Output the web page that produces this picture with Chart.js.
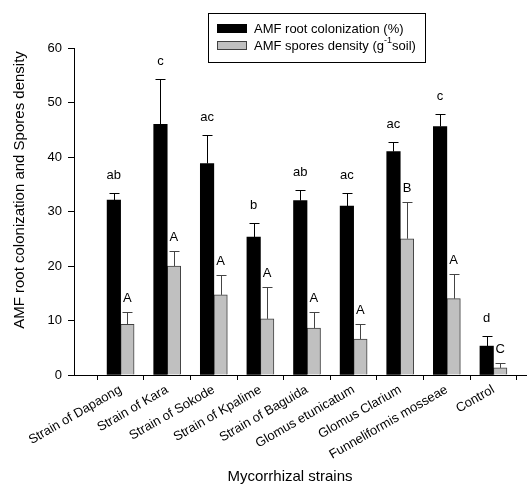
<!DOCTYPE html>
<html><head><meta charset="utf-8">
<script src="https://cdn.jsdelivr.net/npm/chart.js@4"></script>
<style>html,body{margin:0;padding:0;background:#fff}</style>
</head><body>
<canvas id="c" width="527" height="484"></canvas>
<script>
const categories = ['Strain of Dapaong','Strain of Kara','Strain of Sokode','Strain of Kpalime','Strain of Baguida','Glomus etunicatum','Glomus Clarium','Funneliformis mosseae','Control'];
const colonization = [32.1, 46.0, 38.8, 25.3, 32.0, 31.0, 41.0, 45.6, 5.3];
const colonizationErr = [1.3, 8.3, 5.3, 2.6, 2.0, 2.4, 1.8, 2.3, 1.9];
const colonizationLetters = ['ab','c','ac','b','ab','ac','ac','c','d'];
const spores = [9.3, 20.0, 14.7, 10.3, 8.6, 6.6, 25.0, 14.0, 1.3];
const sporesErr = [2.2, 2.7, 3.7, 5.9, 3.0, 2.8, 6.7, 4.5, 0.9];
const sporesLetters = ['A','A','A','A','A','A','B','A','C'];
const yTicks = [0, 10, 20, 30, 40, 50, 60];

const FONT = "'Liberation Sans', Arial, sans-serif";
Chart.defaults.font.family = FONT;

const extras = {
  id: 'extras',
  afterDatasetsDraw(chart) {
    const ctx = chart.ctx, ys = chart.scales.y;
    const errs = [colonizationErr, sporesErr];
    const letters = [colonizationLetters, sporesLetters];
    const errColors = ['#000', '#444'];
    const offsets = [18, 14];
    chart.data.datasets.forEach((ds, di) => {
      const meta = chart.getDatasetMeta(di);
      meta.data.forEach((bar, i) => {
        const top = Math.round(ys.getPixelForValue(ds.data[i].y + errs[di][i])) + 0.5;
        const x = Math.round(bar.x) + 0.5;
        ctx.save();
        ctx.strokeStyle = errColors[di];
        ctx.lineWidth = 1;
        ctx.beginPath();
        ctx.moveTo(x, bar.y); ctx.lineTo(x, top);
        ctx.moveTo(x - 5, top); ctx.lineTo(x + 5, top);
        ctx.stroke();
        ctx.fillStyle = '#000';
        ctx.font = '13px ' + FONT;
        ctx.textAlign = 'center';
        ctx.textBaseline = 'middle';
        ctx.fillText(letters[di][i], bar.x, top - offsets[di]);
        ctx.restore();
      });
    });
  },
  afterDraw(chart) {
    const ctx = chart.ctx;
    ctx.save();
    // axis titles
    ctx.fillStyle = '#000';
    ctx.font = '15px ' + FONT;
    ctx.textAlign = 'center';
    ctx.textBaseline = 'middle';
    ctx.fillText('Mycorrhizal strains', 290, 477);
    ctx.save();
    ctx.translate(20, 190);
    ctx.rotate(-Math.PI / 2);
    ctx.fillText('AMF root colonization and Spores density', 0, 0);
    ctx.restore();
    // legend
    ctx.strokeStyle = '#000';
    ctx.lineWidth = 1;
    ctx.fillStyle = '#fff';
    ctx.fillRect(208.5, 13.5, 217, 49);
    ctx.strokeRect(208.5, 13.5, 217, 49);
    const ds = chart.data.datasets;
    ctx.fillStyle = ds[0].backgroundColor;
    ctx.fillRect(217, 24, 30, 9);
    ctx.fillStyle = ds[1].backgroundColor;
    ctx.fillRect(217.5, 41.5, 29, 8);
    ctx.strokeStyle = ds[1].borderColor;
    ctx.strokeRect(217.5, 41.5, 29, 8);
    ctx.fillStyle = '#000';
    ctx.font = '13px ' + FONT;
    ctx.textAlign = 'left';
    ctx.textBaseline = 'middle';
    ctx.fillText(ds[0].label, 254, 29);
    const p1 = 'AMF spores density (g', sup = '-1', p2 = 'soil)';
    let x = 254;
    ctx.fillText(p1, x, 46);
    x += ctx.measureText(p1).width;
    ctx.font = '9px ' + FONT;
    ctx.fillText(sup, x, 41);
    x += ctx.measureText(sup).width;
    ctx.font = '13px ' + FONT;
    ctx.fillText(p2, x, 46);
    ctx.restore();
  }
};

new Chart(document.getElementById('c'), {
  type: 'bar',
  data: {
    datasets: [
      { label: 'AMF root colonization (%)', data: colonization.map((v, i) => ({ x: i + 1, y: v })),
        backgroundColor: '#000', borderColor: '#000', borderWidth: 0, barThickness: 13.5 },
      { label: 'AMF spores density (g-1soil)', data: spores.map((v, i) => ({ x: i + 1, y: v })),
        backgroundColor: '#c0c0c0', borderColor: '#404040', borderWidth: 1, barThickness: 13.5 }
    ]
  },
  options: {
    responsive: false,
    animation: false,
    layout: { padding: { top: 48, left: 0, right: 0, bottom: 0 } },
    plugins: { legend: { display: false }, tooltip: { enabled: false } },
    scales: {
      x: {
        type: 'linear', min: 0, max: 9.72, offset: false,
        afterBuildTicks: s => { s.ticks = categories.map((c, i) => ({ value: i + 1 })); },
        afterFit: s => { s.height = 109; },
        ticks: { callback: (v, i) => categories[i], minRotation: 30, maxRotation: 30, autoSkip: false,
                 color: '#000', font: { size: 13 }, padding: 2 },
        grid: { display: true, drawOnChartArea: false, drawTicks: true, tickLength: 5, color: '#000' },
        border: { display: true, color: '#000' }
      },
      y: {
        min: 0, max: 60,
        afterBuildTicks: s => { s.ticks = yTicks.map(v => ({ value: v })); },
        afterFit: s => { s.width = 74; },
        ticks: { color: '#000', font: { size: 13 }, padding: 6 },
        grid: { drawOnChartArea: false, drawTicks: true, tickLength: 6, color: '#000' },
        border: { display: true, color: '#000' }
      }
    }
  },
  plugins: [extras]
});
</script>
</body></html>
